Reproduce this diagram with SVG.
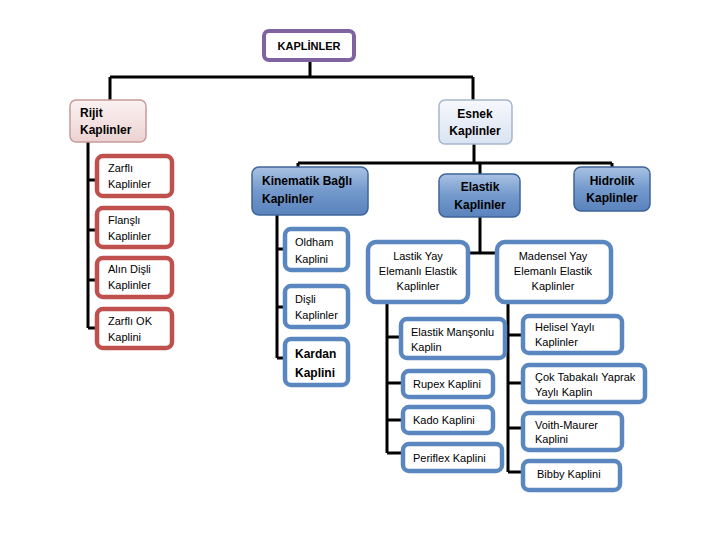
<svg xmlns="http://www.w3.org/2000/svg" width="720" height="540" viewBox="0 0 720 540">
<defs>
<linearGradient id="gBlue" x1="0" y1="0" x2="0" y2="1">
<stop offset="0" stop-color="#a9c2e3"/><stop offset="0.5" stop-color="#7399cc"/><stop offset="1" stop-color="#5a83bd"/>
</linearGradient>
<linearGradient id="gPink" x1="0" y1="0" x2="0" y2="1">
<stop offset="0" stop-color="#fbf2f2"/><stop offset="1" stop-color="#ecd2d2"/>
</linearGradient>
<linearGradient id="gLight" x1="0" y1="0" x2="0" y2="1">
<stop offset="0" stop-color="#f6f9fd"/><stop offset="1" stop-color="#d9e3f1"/>
</linearGradient>
<style>
text{font-family:"Liberation Sans",Arial,sans-serif;font-size:11px;fill:#000}
.b{font-weight:bold;font-size:12px}
.c{text-anchor:middle}
.top{fill:#fff;stroke:#8064a2;stroke-width:4}
.rij{fill:url(#gPink);stroke:#c99a9a;stroke-width:1.5}
.esn{fill:url(#gLight);stroke:#a4b6cc;stroke-width:1.5}
.blu{fill:url(#gBlue);stroke:#3f6499;stroke-width:1.5}
.red{fill:#fff;stroke:#c0504d;stroke-width:4.5}
.bl{fill:#fff;stroke:#5b87c0;stroke-width:4.5}
.ln{fill:none;stroke:#000;stroke-width:3}
</style>
</defs>
<g id="connectors">
<path class="ln" d="M310 61V77M110 77H473M110 77V100M473 77V100"/>
<path class="ln" d="M88 142V328M88 180H97M88 230H97M88 280H97M88 328H97"/>
<path class="ln" d="M474 144V163M298 163H612M298 163V167M612 163V167M480 163V174"/>
<path class="ln" d="M277 215V358M277 249H287M277 307H287M277 358H287"/>
<path class="ln" d="M480 217V253M467 253H497"/>
<path class="ln" d="M387 303V453M387 337H402M387 383H403M387 420H403M387 453H403"/>
<path class="ln" d="M508 302V472M508 335H523M508 383H523M508 428H523M508 472H523"/>
</g>
<g id="kaplinler"><rect class="top" x="264" y="31" width="90" height="29" rx="5"/><text class="c" x="309" y="50" style="font-weight:bold">KAPLİNLER</text></g>
<g id="rijit"><rect class="rij" x="70" y="100" width="76" height="42" rx="6"/><text class="b" x="80" y="117">Rijit</text><text class="b" x="80" y="134">Kaplinler</text></g>
<g id="zarfli"><rect class="red" x="97" y="156" width="75" height="40" rx="6"/><text x="108" y="172">Zarflı</text><text x="108" y="188">Kaplinler</text></g>
<g id="flansli"><rect class="red" x="97" y="208" width="75" height="39" rx="6"/><text x="108" y="224">Flanşlı</text><text x="108" y="240">Kaplinler</text></g>
<g id="alin"><rect class="red" x="97" y="258" width="75" height="39" rx="6"/><text x="108" y="273">Alın Dişli</text><text x="108" y="289">Kaplinler</text></g>
<g id="zarfliok"><rect class="red" x="97" y="309" width="75" height="39" rx="6"/><text x="108" y="325">Zarflı OK</text><text x="108" y="341">Kaplini</text></g>
<g id="esnek"><rect class="esn" x="439" y="100" width="73" height="44" rx="6"/><text class="b c" x="475" y="118">Esnek</text><text class="b c" x="475" y="135">Kaplinler</text></g>
<g id="kinematik"><rect class="blu" x="252" y="167" width="116" height="48" rx="7"/><text class="b" x="262" y="185">Kinematik Bağlı</text><text class="b" x="262" y="203">Kaplinler</text></g>
<g id="elastik"><rect class="blu" x="439" y="174" width="81" height="43" rx="7"/><text class="b c" x="480" y="191">Elastik</text><text class="b c" x="480" y="209">Kaplinler</text></g>
<g id="hidrolik"><rect class="blu" x="574" y="167" width="76" height="44" rx="7"/><text class="b c" x="612" y="185">Hidrolik</text><text class="b c" x="612" y="202">Kaplinler</text></g>
<g id="oldham"><rect class="bl" x="285" y="229" width="63" height="41" rx="6"/><text x="295" y="246">Oldham</text><text x="295" y="263">Kaplini</text></g>
<g id="disli"><rect class="bl" x="285" y="286" width="63" height="41" rx="6"/><text x="295" y="303">Dişli</text><text x="295" y="319">Kaplinler</text></g>
<g id="kardan"><rect class="bl" x="285" y="339" width="63" height="46" rx="6"/><text class="b" x="295" y="358">Kardan</text><text class="b" x="295" y="377">Kaplini</text></g>
<g id="lastik"><rect class="bl" x="368" y="242" width="100" height="60" rx="8"/><text class="c" x="418" y="260">Lastik Yay</text><text class="c" x="418" y="275">Elemanlı Elastik</text><text class="c" x="418" y="290">Kaplinler</text></g>
<g id="madensel"><rect class="bl" x="497" y="242" width="114" height="60" rx="8"/><text class="c" x="553" y="260">Madensel Yay</text><text class="c" x="553" y="275">Elemanlı Elastik</text><text class="c" x="553" y="290">Kaplinler</text></g>
<g id="mansonlu"><rect class="bl" x="401" y="319" width="104" height="39" rx="6"/><text x="411" y="336">Elastik Manşonlu</text><text x="411" y="351">Kaplin</text></g>
<g id="rupex"><rect class="bl" x="403" y="371" width="90" height="26" rx="6"/><text x="413" y="388">Rupex Kaplini</text></g>
<g id="kado"><rect class="bl" x="403" y="407" width="90" height="26" rx="6"/><text x="413" y="424">Kado Kaplini</text></g>
<g id="periflex"><rect class="bl" x="403" y="444" width="99" height="27" rx="6"/><text x="413" y="462">Periflex Kaplini</text></g>
<g id="helisel"><rect class="bl" x="523" y="316" width="99" height="37" rx="6"/><text x="535" y="331">Helisel Yaylı</text><text x="535" y="346">Kaplinler</text></g>
<g id="cok"><rect class="bl" x="523" y="365" width="122" height="37" rx="6"/><text x="535" y="381">Çok Tabakalı Yaprak</text><text x="535" y="396">Yaylı Kaplin</text></g>
<g id="voith"><rect class="bl" x="523" y="413" width="99" height="37" rx="6"/><text x="535" y="429">Voith-Maurer</text><text x="535" y="443">Kaplini</text></g>
<g id="bibby"><rect class="bl" x="523" y="461" width="97" height="29" rx="6"/><text x="537" y="478">Bibby Kaplini</text></g>
</svg>
